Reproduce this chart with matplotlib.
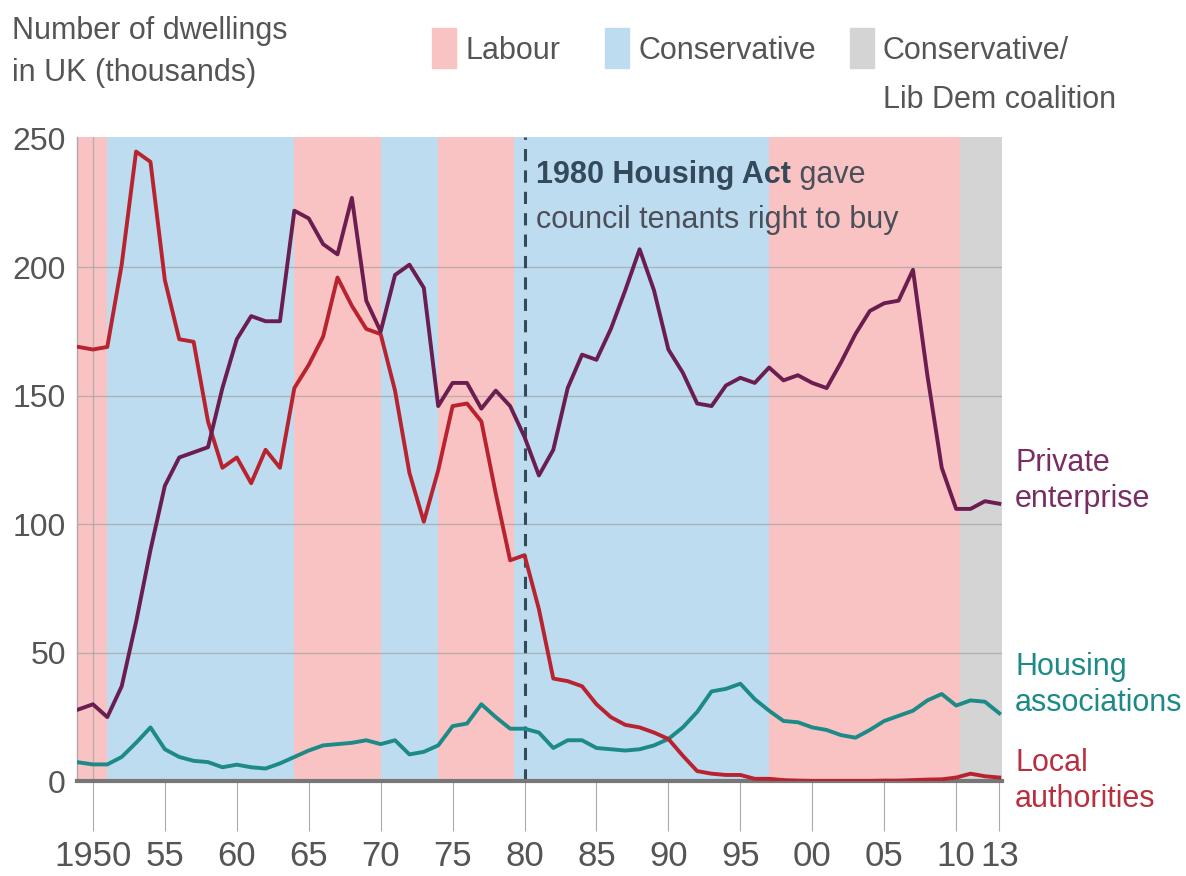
import numpy as np
import matplotlib
matplotlib.use("Agg")
from matplotlib import pyplot as plt
from matplotlib.patches import Rectangle

plt.rcParams['font.family'] = ['Liberation Sans Narrow', 'Liberation Sans', 'DejaVu Sans']

years = list(range(1949, 2014))

private = [28, 30, 25, 37, 62, 90, 115, 126, 128, 130,
           153, 172, 181, 179, 179, 222, 219, 209, 205, 227,
           187, 175, 197, 201, 192, 146, 155, 155, 145, 152,
           146, 134, 119, 129, 153, 166, 164, 176, 191, 207,
           191, 168, 159, 147, 146, 154, 157, 155, 161, 156,
           158, 155, 153, 163, 174, 183, 186, 187, 199, 158,
           122, 106, 106, 109, 108]

local = [169, 168, 169, 201, 245, 241, 195, 172, 171, 140,
         122, 126, 116, 129, 122, 153, 162, 173, 196, 185,
         176, 174, 152, 120, 101, 121, 146, 147, 140, 112,
         86, 88, 67, 40, 39, 37, 30, 25, 22, 21,
         19, 16.5, 10, 4, 3, 2.5, 2.5, 1, 1, 0.5,
         0.3, 0.2, 0.2, 0.2, 0.2, 0.2, 0.3, 0.3, 0.5, 0.7,
         0.8, 1.5, 3, 2, 1.5]

housing = [7.4, 6.6, 6.6, 9.5, 15, 21, 12.5, 9.5, 8, 7.5,
           5.5, 6.5, 5.5, 5, 7, 9.5, 12, 14, 14.5, 15,
           16, 14.5, 16, 10.5, 11.5, 14, 21.5, 22.5, 30, 25,
           20.5, 20.5, 19, 13, 16, 16, 13, 12.5, 12, 12.5,
           14, 16.5, 21, 27, 35, 36, 38, 32, 27.5, 23.5,
           23, 21, 20, 18, 17, 20, 23.5, 25.5, 27.5, 31.5,
           34, 29.5, 31.5, 31, 26.5]

# governments: (start, end, party)
gov_start = [1948.9, 1951, 1964, 1970, 1974, 1979.3, 1997, 2010.3]
gov_end = [1951, 1964, 1970, 1974, 1979.3, 1997, 2010.3, 2013.2]
gov_party = ["lab", "con", "lab", "con", "lab", "con", "lab", "coal"]

xticks = [1950, 1955, 1960, 1965, 1970, 1975, 1980, 1985, 1990, 1995, 2000, 2005, 2010, 2013]
xlabels = ["1950", "55", "60", "65", "70", "75", "80", "85", "90", "95", "00", "05", "10", "13"]

party_col = {"lab": "#F9C3C3", "con": "#BEDCF0", "coal": "#D4D4D4"}
c_private = "#6B1D50"
c_local = "#B8232F"
c_housing = "#1C8A86"
grey = "#555555"

fig = plt.figure(figsize=(11.86, 8.76), dpi=100)
ax = fig.add_axes([0.065, 0.108, 0.78, 0.736])

for s, e, p in zip(gov_start, gov_end, gov_party):
    ax.axvspan(s, e, color=party_col[p], lw=0, zorder=0)

for v in [50, 100, 150, 200]:
    ax.axhline(v, color="#9a9a9a", lw=1, alpha=0.6, zorder=1)
ax.axvline(1950, color="#9a9a9a", lw=1, alpha=0.6, zorder=1)

ax.axvline(1980, color="#34495a", lw=2.2, ls=(0, (4, 3)), zorder=2)

ax.plot(years, housing, color=c_housing, lw=2.8, zorder=3)
ax.plot(years, local, color=c_local, lw=2.8, zorder=4)
ax.plot(years, private, color=c_private, lw=2.8, zorder=5)

ax.set_xlim(1948.9, 2013.2)
ax.set_ylim(0, 250.8)
ax.set_yticks([0, 50, 100, 150, 200, 250])
ax.set_xticks(xticks)
ax.set_xticklabels(xlabels)
ax.tick_params(axis="y", length=0, labelsize=23, labelcolor=grey, pad=8)
ax.tick_params(axis="x", length=36, width=0.8, color="#aaaaaa", labelsize=25,
               labelcolor=grey, pad=6)

for side in ["top", "right"]:
    ax.spines[side].set_visible(False)
ax.spines["left"].set_color("#aaaaaa")
ax.spines["left"].set_linewidth(1)
ax.spines["bottom"].set_color("#777777")
ax.spines["bottom"].set_linewidth(3)

# annotation
t1 = ax.text(1980.8, 230, "1980 Housing Act", fontsize=22, fontweight="bold",
             color="#34495a", va="bottom", ha="left", zorder=6)
ax.annotate(" gave", xy=(1, 0), xycoords=t1, va="bottom", ha="left",
            fontsize=22, color="#4a4f5a", zorder=6)
ax.text(1980.8, 212.5, "council tenants right to buy", fontsize=22,
        color="#4a4f5a", va="bottom", ha="left", zorder=6)

# right labels
fig.text(1015 / 1186, 1 - 481 / 876, "Private\nenterprise", fontsize=22,
         color="#7a2d64", va="center", ha="left", linespacing=1.3)
fig.text(1015 / 1186, 1 - 685 / 876, "Housing\nassociations", fontsize=22,
         color=c_housing, va="center", ha="left", linespacing=1.3)
fig.text(1015 / 1186, 1 - 781 / 876, "Local\nauthorities", fontsize=22,
         color="#B8303F", va="center", ha="left", linespacing=1.3)

# y label
fig.text(12 / 1186, 1 - 52 / 876, "Number of dwellings\nin UK (thousands)",
         fontsize=22, color=grey, va="center", ha="left", linespacing=1.55)

# legend
leg_items = [(432, "Labour", "lab"), (605, "Conservative", "con"),
             (850, "Conservative/", "coal")]
for px, label, p in leg_items:
    fig.patches.append(Rectangle((px / 1186, 1 - 68 / 876), 24 / 1186, 40 / 876,
                                 transform=fig.transFigure, color=party_col[p]))
    fig.text((px + 33) / 1186, 1 - 51 / 876, label, fontsize=22, color=grey,
             va="center", ha="left")
fig.text(883 / 1186, 1 - 100 / 876, "Lib Dem coalition", fontsize=22, color=grey,
         va="center", ha="left")

fig.savefig("out.png", dpi=100)
